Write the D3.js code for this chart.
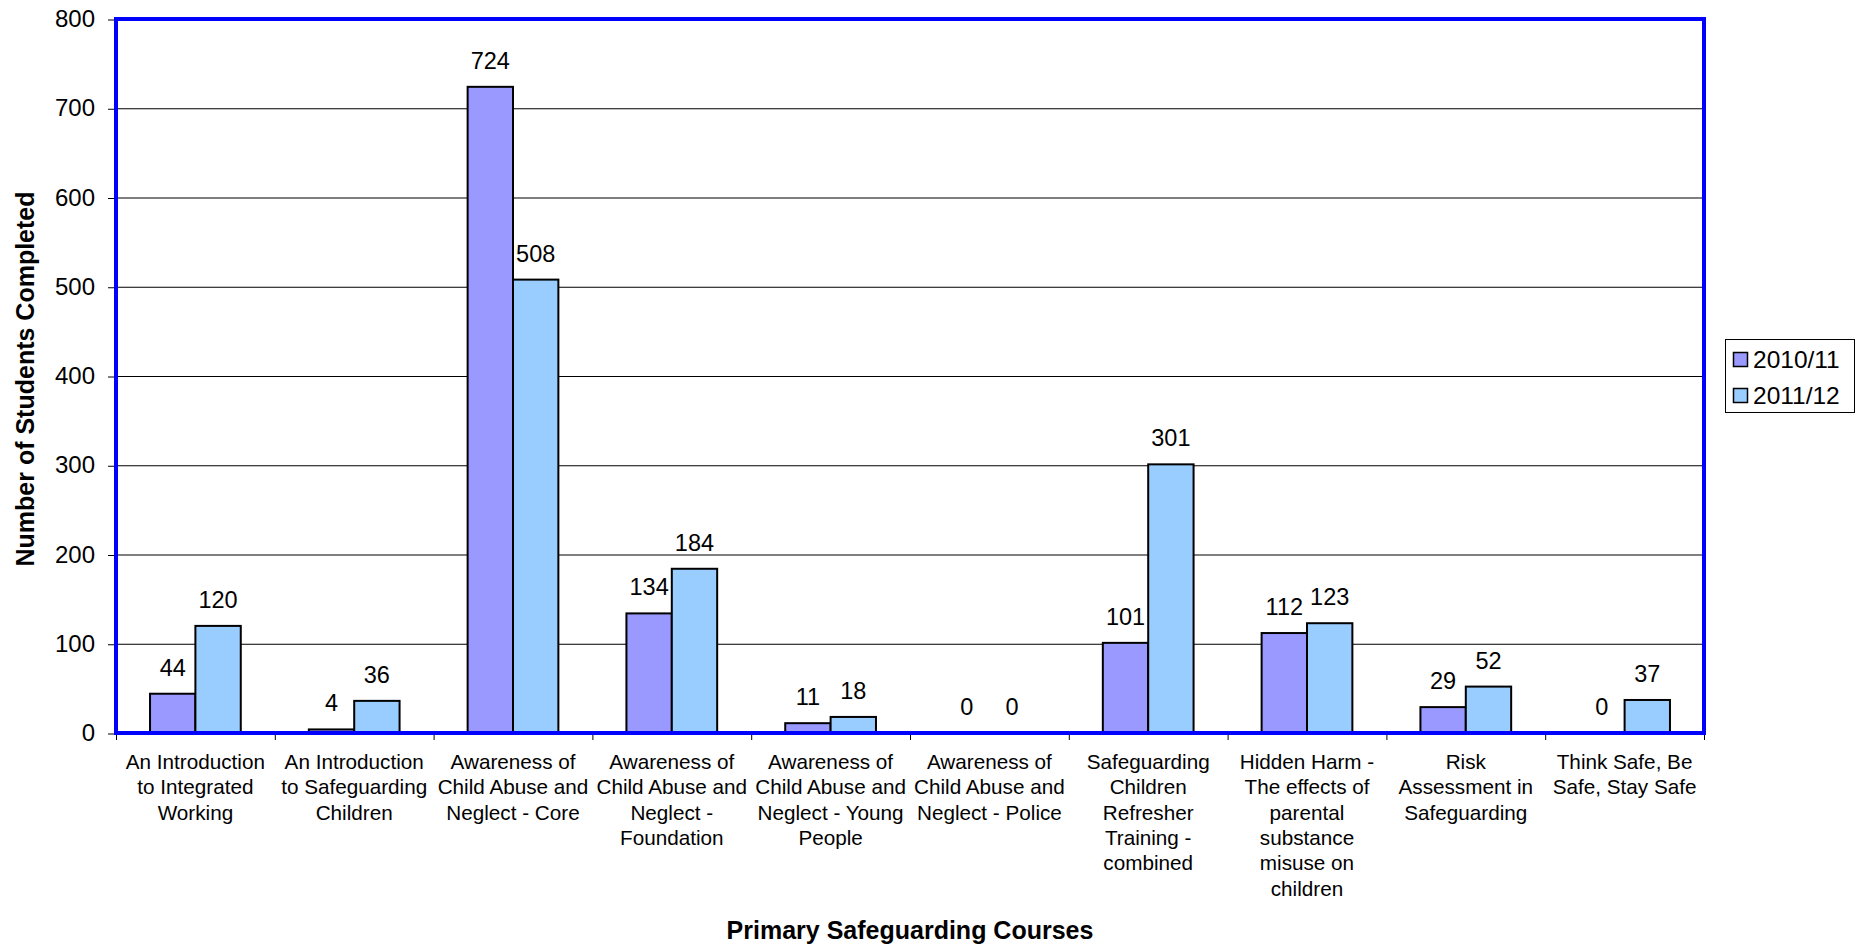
<!DOCTYPE html>
<html>
<head>
<meta charset="utf-8">
<script src="https://cdn.jsdelivr.net/npm/d3@7/dist/d3.min.js"></script>
<style>
  html, body { margin: 0; padding: 0; background: #fff; }
  svg { display: block; font-family: "Liberation Sans", Arial, sans-serif; }
</style>
</head>
<body>
<svg id="chart" width="1859" height="944"></svg>
<script>
// Course names (line breaks mark where each label wraps)
const categories = [
  "An Introduction\nto Integrated\nWorking",
  "An Introduction\nto Safeguarding\nChildren",
  "Awareness of\nChild Abuse and\nNeglect - Core",
  "Awareness of\nChild Abuse and\nNeglect -\nFoundation",
  "Awareness of\nChild Abuse and\nNeglect - Young\nPeople",
  "Awareness of\nChild Abuse and\nNeglect - Police",
  "Safeguarding\nChildren\nRefresher\nTraining -\ncombined",
  "Hidden Harm -\nThe effects of\nparental\nsubstance\nmisuse on\nchildren",
  "Risk\nAssessment in\nSafeguarding",
  "Think Safe, Be\nSafe, Stay Safe"
];
const seriesNames = ["2010/11", "2011/12"];
const values2010 = [44, 4, 724, 134, 11, 0, 101, 112, 29, 0];
const values2011 = [120, 36, 508, 184, 18, 0, 301, 123, 52, 37];
const yTicks = [0, 100, 200, 300, 400, 500, 600, 700, 800];
const seriesColors = ["#9999FF", "#99CCFF"];

const seriesValues = [values2010, values2011];

const svg = d3.select("#chart");
const plot = { left: 116, top: 19, right: 1704, bottom: 733 };

const x = d3.scaleBand().domain(categories).range([plot.left, plot.right]).padding(0);
const xs = d3.scaleBand().domain(seriesNames).range([0, x.bandwidth()])
  .paddingInner(0).paddingOuter(0.75);
const y = d3.scaleLinear().domain([0, 800]).range([plot.bottom, plot.top]);

// Horizontal gridlines
svg.append("g")
  .selectAll("line")
  .data(yTicks.filter(d => d > 0 && d < 800))
  .join("line")
  .attr("x1", plot.left).attr("x2", plot.right)
  .attr("y1", d => y(d) + 0.5).attr("y2", d => y(d) + 0.5)
  .attr("stroke", "#000").attr("stroke-width", 1);

// Y axis
const yAxis = svg.append("g")
  .attr("transform", `translate(${plot.left},0)`)
  .call(d3.axisLeft(y).tickValues(yTicks).tickSize(8).tickPadding(13));
yAxis.select(".domain").remove();
yAxis.selectAll(".tick line").attr("stroke", "#000").attr("transform", "translate(0,0.5)");
yAxis.selectAll(".tick text")
  .attr("font-size", 24).attr("fill", "#000")
  .attr("font-family", "Liberation Sans, Arial, sans-serif");

// X axis tick marks at category boundaries
const boundaries = categories.map(c => x(c)).concat([plot.right]);
svg.append("g")
  .selectAll("line")
  .data(boundaries)
  .join("line")
  .attr("x1", d => d + 0.5).attr("x2", d => d + 0.5)
  .attr("y1", plot.bottom).attr("y2", plot.bottom + 7)
  .attr("stroke", "#000").attr("stroke-width", 1);

// Bars
const groups = svg.append("g")
  .selectAll("g")
  .data(categories)
  .join("g")
  .attr("transform", d => `translate(${x(d)},0)`);

groups.selectAll("rect")
  .data((d, i) => seriesNames.map((s, j) => ({ s, v: seriesValues[j][i], c: seriesColors[j] })))
  .join("rect")
  .attr("x", d => xs(d.s))
  .attr("y", d => y(d.v))
  .attr("width", xs.bandwidth())
  .attr("height", d => y(0) - y(d.v))
  .attr("fill", d => d.c)
  .attr("stroke", "#000")
  .attr("stroke-width", 2);

// Value labels above bars
groups.selectAll("text.val")
  .data((d, i) => seriesNames.map((s, j) => ({ s, v: seriesValues[j][i] })))
  .join("text")
  .attr("class", "val")
  .attr("x", d => xs(d.s) + xs.bandwidth() / 2)
  .attr("y", d => y(d.v) - 18)
  .attr("text-anchor", "middle")
  .attr("font-size", 23.5)
  .attr("fill", "#000")
  .text(d => d.v);

// Plot frame
svg.append("rect")
  .attr("x", plot.left).attr("y", plot.top)
  .attr("width", plot.right - plot.left)
  .attr("height", plot.bottom - plot.top)
  .attr("fill", "none")
  .attr("stroke", "#0000FF")
  .attr("stroke-width", 4);

// Category labels
const catLabels = svg.append("g")
  .selectAll("text")
  .data(categories)
  .join("text")
  .attr("text-anchor", "middle")
  .attr("font-size", 20.7)
  .attr("fill", "#000")
  .attr("x", d => x(d) + x.bandwidth() / 2)
  .attr("y", 769);
catLabels.selectAll("tspan")
  .data(d => d.split("\n"))
  .join("tspan")
  .attr("x", function () { return d3.select(this.parentNode).attr("x"); })
  .attr("dy", (d, i) => i === 0 ? 0 : 25.3)
  .text(d => d);

// Axis titles
svg.append("text")
  .attr("x", (plot.left + plot.right) / 2)
  .attr("y", 939)
  .attr("text-anchor", "middle")
  .attr("font-size", 25)
  .attr("font-weight", "bold")
  .text("Primary Safeguarding Courses");

svg.append("text")
  .attr("transform", `translate(34,${(plot.top + plot.bottom) / 2 + 3}) rotate(-90)`)
  .attr("text-anchor", "middle")
  .attr("font-size", 25)
  .attr("font-weight", "bold")
  .text("Number of Students Completed");

// Legend
const legend = svg.append("g");
legend.append("rect")
  .attr("x", 1725.5).attr("y", 339.5)
  .attr("width", 129).attr("height", 73)
  .attr("fill", "#fff").attr("stroke", "#000").attr("stroke-width", 1);
const items = legend.selectAll("g")
  .data(seriesNames)
  .join("g")
  .attr("transform", (d, i) => `translate(1733,${352 + i * 36})`);
items.append("rect")
  .attr("x", 0.5).attr("y", 0.5)
  .attr("width", 14).attr("height", 14)
  .attr("fill", (d, i) => seriesColors[i])
  .attr("stroke", "#000").attr("stroke-width", 1.5);
items.append("text")
  .attr("x", 20).attr("y", 16)
  .attr("font-size", 24.5)
  .attr("fill", "#000")
  .text(d => d);
</script>
</body>
</html>
